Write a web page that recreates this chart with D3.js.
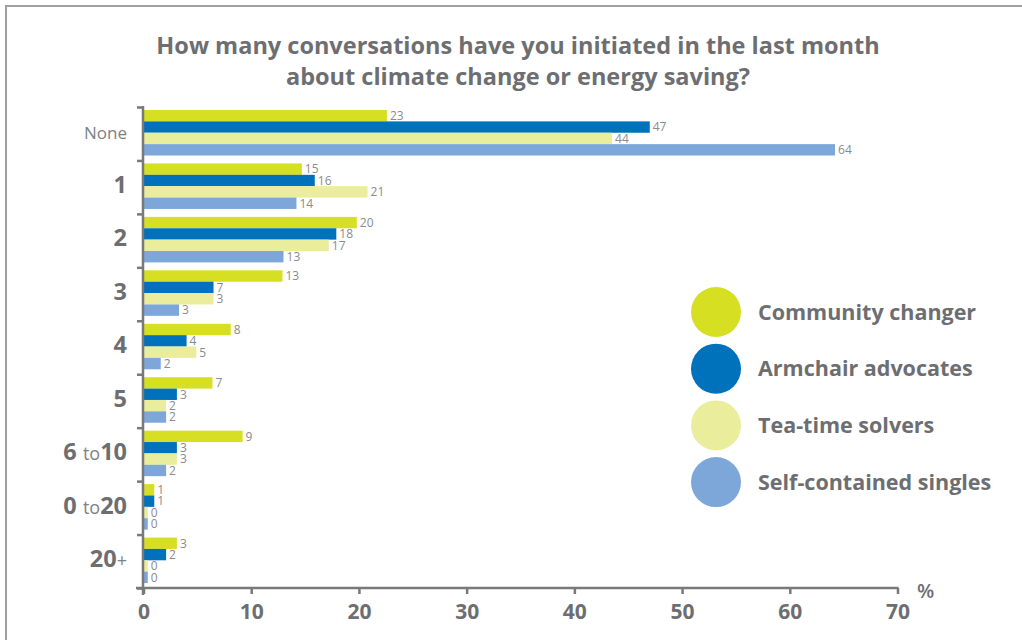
<!DOCTYPE html>
<html>
<head>
<meta charset="utf-8">
<script src="https://cdn.jsdelivr.net/npm/d3@7"></script>
<style>
  body { margin: 0; background: #fff; }
  svg { display: block; font-family: "Open Sans", sans-serif; }
</style>
</head>
<body>
<div id="chart"></div>
<script>
// categories (rows) and series
var categories = ["None", "1", "2", "3", "4", "5", "6 to 10", "0 to 20", "20+"];
var seriesNames = ["Community changer", "Armchair advocates", "Tea-time solvers", "Self-contained singles"];
var seriesColors = ["#d6df22", "#0071bb", "#e9ed9c", "#7da7d9"];

// bar lengths (%) as drawn
var community = [22.6, 14.7, 19.8, 12.9, 8.1, 6.4, 9.2, 1.0, 3.1];
var armchair  = [47.0, 15.9, 17.9, 6.5, 4.0, 3.1, 3.1, 1.0, 2.1];
var teatime   = [43.5, 20.8, 17.2, 6.5, 4.9, 2.1, 3.1, 0.4, 0.4];
var selfcont  = [64.2, 14.2, 13.0, 3.3, 1.6, 2.1, 2.1, 0.4, 0.4];

// printed value labels
var communityLbl = ["23", "15", "20", "13", "8", "7", "9", "1", "3"];
var armchairLbl  = ["47", "16", "18", "7", "4", "3", "3", "1", "2"];
var teatimeLbl   = ["44", "21", "17", "3", "5", "2", "3", "0", "0"];
var selfcontLbl  = ["64", "14", "13", "3", "2", "2", "2", "0", "0"];

var xTicks = [0, 10, 20, 30, 40, 50, 60, 70];

var allValues = [community, armchair, teatime, selfcont];
var allLabels = [communityLbl, armchairLbl, teatimeLbl, selfcontLbl];

var width = 1022, height = 640;
var textGrey = "#6d6e71", axisGrey = "#78797b";

var svg = d3.select("#chart").append("svg")
    .attr("width", width)
    .attr("height", height);

// frame (top and left only)
svg.append("path")
    .attr("d", "M6,640 V6 H1022")
    .attr("fill", "none")
    .attr("stroke", "#a0a0a0")
    .attr("stroke-width", 2);

// title
svg.append("text")
    .attr("x", 518).attr("y", 54)
    .attr("text-anchor", "middle")
    .style("font-size", "23.5px").style("font-weight", "bold").style("fill", textGrey)
    .text("How many conversations have you initiated in the last month");
svg.append("text")
    .attr("x", 518).attr("y", 85)
    .attr("text-anchor", "middle")
    .style("font-size", "23.5px").style("font-weight", "bold").style("fill", textGrey)
    .text("about climate change or energy saving?");

// scales
var x = d3.scaleLinear().domain([0, 70]).range([143.5, 897.5]);
var y0 = d3.scaleBand().domain(categories).range([107, 588]);
var y1 = d3.scaleBand().domain(seriesNames).range([3, 48.5]);
var yEdge = d3.scaleLinear().domain([0, categories.length]).range([107, 588]);

// data rows
var rows = [];
categories.forEach(function(c, i) {
  seriesNames.forEach(function(s, j) {
    rows.push({cat: c, series: s, value: allValues[j][i], label: allLabels[j][i], color: seriesColors[j]});
  });
});

// bars
svg.append("g").selectAll("rect")
    .data(rows)
    .enter()
    .append("rect")
      .attr("x", x(0))
      .attr("y", function(d) { return y0(d.cat) + y1(d.series); })
      .attr("width", function(d) { return x(d.value) - x(0); })
      .attr("height", y1.bandwidth())
      .attr("fill", function(d) { return d.color; });

// value labels
svg.append("g").selectAll("text")
    .data(rows)
    .enter()
    .append("text")
      .attr("x", function(d) { return x(d.value) + 3; })
      .attr("y", function(d) { return y0(d.cat) + y1(d.series) + y1.bandwidth() / 2; })
      .attr("dy", "0.36em")
      .style("font-size", "12px").style("fill", "#8a8b8d")
      .text(function(d) { return d.label; });

// y axis: ticks on row boundaries
var yAxis = svg.append("g")
    .attr("transform", "translate(143,0)")
    .call(d3.axisLeft(yEdge).ticks(categories.length).tickSize(6).tickSizeOuter(0).tickFormat(""));
yAxis.select(".domain").remove();
yAxis.selectAll("line").attr("stroke", axisGrey).attr("stroke-width", 2.5);
svg.append("line")
    .attr("x1", 143).attr("x2", 143)
    .attr("y1", 106).attr("y2", 595)
    .attr("stroke", axisGrey).attr("stroke-width", 2.5);

// x axis
var xAxis = svg.append("g")
    .attr("transform", "translate(0,588)")
    .call(d3.axisBottom(x).tickValues(xTicks).tickSize(6).tickSizeOuter(0).tickPadding(10));
xAxis.select(".domain").remove();
xAxis.selectAll("line").attr("stroke", axisGrey).attr("stroke-width", 2.5);
xAxis.selectAll("text")
    .style("font-family", "'Open Sans', sans-serif")
    .style("font-size", "21px").style("font-weight", "bold").style("fill", textGrey);
svg.append("line")
    .attr("x1", 136).attr("x2", x(70) + 1)
    .attr("y1", 588).attr("y2", 588)
    .attr("stroke", axisGrey).attr("stroke-width", 2.5);

svg.append("text")
    .attr("x", 917).attr("y", 598)
    .style("font-size", "20px").style("font-weight", "600").style("fill", textGrey)
    .text("%");

// category labels: bold numbers, light "to"/"+"/"None"
var catLabels = svg.append("g").selectAll("text")
    .data(categories)
    .enter()
    .append("text")
      .attr("x", 127)
      .attr("y", function(d) { return y0(d) + y0.bandwidth() / 2; })
      .attr("dy", "0.36em")
      .attr("text-anchor", "end")
      .style("fill", textGrey);

catLabels.each(function(d) {
  var t = d3.select(this);
  var parts;
  if (d === "None") parts = [["None", false]];
  else if (d.indexOf(" to ") > 0) {
    var p = d.split(" to ");
    parts = [[p[0] + " ", true], ["to", false], [p[1], true]];
  } else if (d.slice(-1) === "+") parts = [[d.slice(0, -1), true], ["+", false]];
  else parts = [[d, true]];
  parts.forEach(function(p) {
    t.append("tspan")
      .style("font-size", p[1] ? "23.5px" : (d === "None" ? "17px" : "18px"))
      .style("font-weight", p[1] ? "bold" : "normal")
      .style("fill", p[1] ? textGrey : "#808184")
      .text(p[0]);
  });
});

// legend
var legend = svg.append("g").selectAll("g")
    .data(seriesNames)
    .enter()
    .append("g")
      .attr("transform", function(d, i) { return "translate(716," + (312 + i * 56.7) + ")"; });
legend.append("circle")
    .attr("r", 25)
    .attr("fill", function(d, i) { return seriesColors[i]; });
legend.append("text")
    .attr("x", 42)
    .attr("dy", "0.36em")
    .style("font-size", "21.5px").style("font-weight", "bold").style("fill", textGrey)
    .text(function(d) { return d; });
</script>
</body>
</html>
